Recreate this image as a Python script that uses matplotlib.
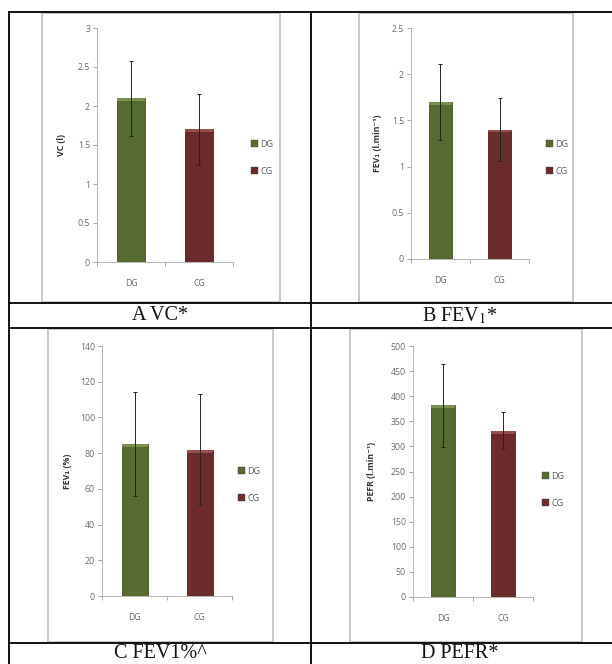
import matplotlib.pyplot as plt
from matplotlib.lines import Line2D
from matplotlib.patches import Rectangle

W, H = 612, 664

groups = ['DG', 'CG']
colors = ['#566b2e', '#6b2b2a']

vc_mean = [2.1, 1.7]
vc_err = [0.48, 0.45]
fev1_mean = [1.7, 1.4]
fev1_err = [0.41, 0.34]
fev1pct_mean = [85, 82]
fev1pct_err = [29, 31]
pefr_mean = [382, 331]
pefr_err = [83, 37]

panels = [
    # axes px (x0, x1, ytop, ybottom), frame px, legend px, ylabel x
    dict(mean=vc_mean, err=vc_err, ylabel='VC (l)', yticks=[0, 0.5, 1, 1.5, 2, 2.5, 3],
         ax=(97, 233, 28, 262), frame=(42, 280, 13, 302), leg=(246, 158), ylx=62),
    dict(mean=fev1_mean, err=fev1_err, ylabel='FEV\u2081 (l.min\u207b\u00b9)', yticks=[0, 0.5, 1, 1.5, 2, 2.5],
         ax=(411, 529, 28, 259), frame=(359, 573, 13, 302), leg=(541, 158), ylx=378),
    dict(mean=fev1pct_mean, err=fev1pct_err, ylabel='FEV\u2081 (%)', yticks=list(range(0, 141, 20)),
         ax=(102, 232, 346, 596), frame=(48, 273, 329, 642), leg=(233, 485), ylx=67),
    dict(mean=pefr_mean, err=pefr_err, ylabel='PEFR (l.min\u207b\u00b9)', yticks=list(range(0, 501, 50)),
         ax=(413, 533, 346, 597), frame=(350, 582, 329, 642), leg=(537, 490), ylx=372),
]

captions = ['A VC*', r'B FEV$_1$*', 'C FEV1%^', 'D PEFR*']
caption_pos = [(160, 316), (460, 316), (160, 654), (460, 654)]

plt.rcParams['mathtext.fontset'] = 'stix'
fig = plt.figure(figsize=(W / 100, H / 100), dpi=100)


def fx(x):
    return x / W


def fy(y):
    return 1 - y / H


# chart frames
for p in panels:
    x0, x1, y0, y1 = p['frame']
    fig.patches.append(Rectangle((fx(x0), fy(y1)), fx(x1) - fx(x0), fy(y0) - fy(y1),
                                 transform=fig.transFigure, fill=False,
                                 edgecolor='#c8c8c8', linewidth=1.4, zorder=0))

sans = ['Open Sans', 'DejaVu Sans']
tick_font = dict(family=sans, size=6.3, color='#6a6a6a')

for p in panels:
    x0, x1, yt, yb = p['ax']
    ax = fig.add_axes([fx(x0), fy(yb), fx(x1) - fx(x0), fy(yt) - fy(yb)])
    xs = range(len(groups))
    ax.bar(xs, p['mean'], width=0.4, color=colors, edgecolor=['#435423', '#521f1f'],
           linewidth=0.6, zorder=2)
    # lighter top band like the excel bevel
    top = p['yticks'][-1] * 0.012
    ax.bar(xs, [top, top], bottom=[m - top for m in p['mean']], width=0.4,
           color=['#7a9150', '#96504c'], linewidth=0, zorder=2)
    ax.errorbar(xs, p['mean'], yerr=p['err'], fmt='none', ecolor='#222222',
                elinewidth=0.7, capsize=1.5, capthick=0.7, zorder=3)
    ax.set_xlim(-0.5, 1.5)
    ax.set_ylim(0, p['yticks'][-1])
    ax.set_yticks(p['yticks'])
    ax.set_yticklabels([('%g' % t) for t in p['yticks']], fontdict=tick_font)
    ax.set_xticks([-0.5, 0.5, 1.5], minor=False)
    ax.set_xticklabels([])
    ax.set_xticks(list(xs), minor=True)
    ax.set_xticklabels(groups, minor=True, fontdict=tick_font)
    ax.tick_params(axis='x', which='minor', length=0, pad=12)
    ax.tick_params(axis='both', which='major', length=3, width=0.6, color='#999999', pad=2)
    for s in ['top', 'right']:
        ax.spines[s].set_visible(False)
    for s in ['left', 'bottom']:
        ax.spines[s].set_color('#aaaaaa')
        ax.spines[s].set_linewidth(0.6)
    ax.patch.set_alpha(0)
    fig.text(fx(p['ylx']), (fy(yt) + fy(yb)) / 2, p['ylabel'], rotation=90,
             ha='center', va='center', fontsize=6.3, fontweight='bold', color='#333333',
             family=sans)
    handles = [Rectangle((0, 0), 1, 1, facecolor=c, edgecolor='#444444', linewidth=0.3) for c in colors]
    ax.legend(handles, groups, loc='center left', bbox_to_anchor=(fx(p['leg'][0]), fy(p['leg'][1])),
              bbox_transform=fig.transFigure, frameon=False, handlelength=0.8, handleheight=0.8,
              handletextpad=0.3, labelspacing=2.0, borderpad=0,
              prop=dict(family=sans, size=6.5), labelcolor='#595959')


# table lines
def hline(y, x0=9, x1=612):
    fig.add_artist(Line2D([fx(x0), fx(x1)], [fy(y), fy(y)], transform=fig.transFigure,
                          color='black', linewidth=1.3))


def vline(x, y0=12, y1=664):
    fig.add_artist(Line2D([fx(x), fx(x)], [fy(y0), fy(y1)], transform=fig.transFigure,
                          color='black', linewidth=1.3))


for y in [12, 303, 328, 643]:
    hline(y)
vline(9)
vline(311)

for txt, (x, y) in zip(captions, caption_pos):
    fig.text(fx(x), fy(y), txt, ha='center', va='center', fontsize=14.5,
             family='Liberation Serif', color='#111111')

fig.savefig('out.png', dpi=100)
